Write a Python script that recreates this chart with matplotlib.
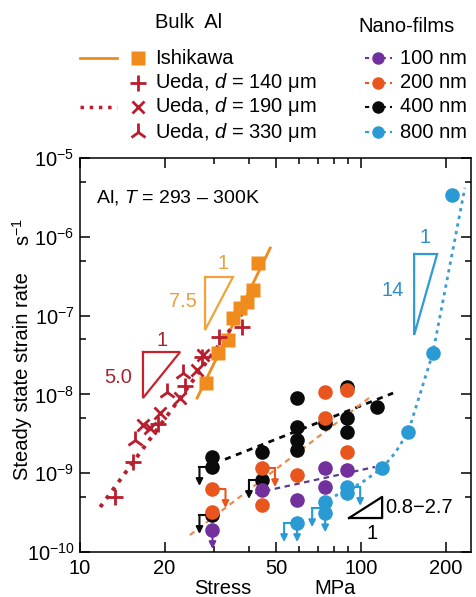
import numpy as np
import matplotlib
matplotlib.use('Agg')
import matplotlib.pyplot as plt
from matplotlib.lines import Line2D
from matplotlib.ticker import FixedLocator, FuncFormatter, NullFormatter

plt.rcParams['font.family'] = ['Liberation Sans', 'DejaVu Sans']
plt.rcParams['mathtext.fontset'] = 'custom'
plt.rcParams['mathtext.rm'] = 'Liberation Sans'
plt.rcParams['mathtext.it'] = 'Liberation Sans:italic'
plt.rcParams['mathtext.bf'] = 'Liberation Sans:bold'

# ---------------- data ----------------
ishikawa_stress = [28.1, 31.0, 33.6, 35.0, 37.1, 39.3, 41.3, 43.0]
ishikawa_rate = [1.40e-8, 3.35e-8, 4.9e-8, 9.3e-8, 1.25e-7, 1.49e-7, 2.11e-7, 4.65e-7]
ishikawa_fit_stress = [26.1, 47.5]
ishikawa_fit_rate = [9.0e-9, 7.2e-7]

ueda140_stress = [13.3, 15.4, 18.95, 23.6, 27.2, 31.2, 37.7]
ueda140_rate = [5.0e-10, 1.39e-9, 4.2e-9, 1.28e-8, 2.99e-8, 5.35e-8, 7.16e-8]
ueda190_stress = [16.8, 17.7, 19.3, 22.7, 26.1, 27.4]
ueda190_rate = [4.09e-9, 3.75e-9, 5.8e-9, 9.0e-9, 2.04e-8, 3.16e-8]
ueda330_stress = [15.7, 20.4, 23.3]
ueda330_rate = [2.64e-9, 1.07e-8, 1.87e-8]
ueda_fit_stress = [11.8, 40.9]
ueda_fit_rate = [3.72e-10, 1.58e-7]

nf100_stress = [29.6, 44.4, 59.2, 74.5, 74.5, 89.2]
nf100_rate = [1.9e-10, 6.1e-10, 4.57e-10, 1.16e-9, 6.7e-10, 1.10e-9]
nf200_stress = [29.6, 29.6, 44.4, 44.4, 59.2, 74.5, 74.5, 89.2, 89.2]
nf200_rate = [6.3e-10, 3.2e-10, 1.16e-9, 3.95e-10, 9.5e-10, 1.07e-8, 5.0e-9, 1.14e-8, 1.86e-9]
nf400_stress = [29.6, 29.6, 29.6, 44.4, 44.4, 59.2, 59.2, 59.2, 59.2, 74.5, 89.2, 89.2, 89.2, 114]
nf400_rate = [1.61e-9, 1.2e-9, 2.95e-10, 1.86e-9, 8.2e-10, 9.0e-9, 3.86e-9, 2.64e-9, 1.97e-9,
              4.33e-9, 1.24e-8, 5.0e-9, 3.33e-9, 6.9e-9]
nf800_stress = [59.2, 74.5, 74.5, 89.2, 89.2, 118.8, 147, 180, 211]
nf800_rate = [2.33e-10, 4.3e-10, 3.1e-10, 6.7e-10, 5.6e-10, 1.16e-9, 3.33e-9, 3.35e-8, 3.4e-6]

nf100_fit_stress = [42.0, 112]
nf100_fit_rate = [5.6e-10, 1.2e-9]
nf200_fit_stress = [24.6, 110]
nf200_fit_rate = [1.64e-10, 9.8e-9]
nf400_fit_stress = [32.8, 130]
nf400_fit_rate = [1.5e-9, 1.04e-8]
nf800_fit_stress = [72, 100, 118.8, 132, 147, 180, 234]
nf800_fit_rate = [4.2e-10, 7.5e-10, 1.16e-9, 1.8e-9, 3.33e-9, 3.35e-8, 4.2e-6]

# upper-limit points (side: -1 hook left, +1 hook right, 0 straight down)
limit_stress = [29.6, 29.6, 29.6, 29.6, 44.4, 44.4, 59.2, 59.2, 74.5, 74.5, 89.2]
limit_rate = [1.2e-9, 2.95e-10, 6.3e-10, 1.9e-10, 8.2e-10, 1.16e-9, 2.33e-10, 2.33e-10,
              3.6e-10, 3.1e-10, 6.7e-10]
limit_side = [-1, -1, 1, 0, -1, 1, -1, 0, -1, 0, 1]
limit_series = ['400', '400', '200', '100', '400', '200', '800', '800', '800', '800', '800']

x_ticks = [10, 20, 50, 100, 200]
x_minor = [30, 40, 60, 70, 80, 90]
y_ticks = [1e-10, 1e-9, 1e-8, 1e-7, 1e-6, 1e-5]
y_minor = [5e-10, 5e-9, 5e-8, 5e-7, 5e-6]

# ---------------- styles ----------------
C_ISH = '#F08C1E'
C_UEDA = '#B81E2E'
C_NF = {'100': '#71309C', '200': '#E8561E', '400': '#0A0A0A', '800': '#2A9AD4'}
FS = 14.5

W, H = 476, 597
fig = plt.figure(figsize=(W / 100, H / 100), dpi=100)
ax = fig.add_axes([80 / W, 1 - 552 / H, (471 - 80) / W, (552 - 158) / H])
ax.set_xscale('log')
ax.set_yscale('log')
ax.set_xlim(10, 246)
ax.set_ylim(1e-10, 1e-5)

# fit lines
ax.plot(ishikawa_fit_stress, ishikawa_fit_rate, '-', color=C_ISH, lw=2.0, zorder=3)
ax.plot(ueda_fit_stress, ueda_fit_rate, ':', color=C_UEDA, lw=2.8, zorder=3)
ax.plot(nf400_fit_stress, nf400_fit_rate, color=C_NF['400'], lw=2.0, dashes=(2.2, 2.0), zorder=2)
ax.plot(nf200_fit_stress, nf200_fit_rate, color='#EE8A4E', lw=1.6, dashes=(2.5, 2.0), zorder=2)
ax.plot(nf100_fit_stress, nf100_fit_rate, color='#5E3A8A', lw=1.6, dashes=(2.5, 2.0), zorder=2)
ax.plot(nf800_fit_stress, nf800_fit_rate, color='#3A9CCF', lw=2.0, dashes=(1.2, 1.6), zorder=2)

# bulk markers
ax.plot(ishikawa_stress, ishikawa_rate, 's', color=C_ISH, ms=10.5, mec='none', zorder=4)
ax.plot(ueda140_stress, ueda140_rate, '+', color=C_UEDA, ms=12, mew=2.0, zorder=5)
ax.plot(ueda190_stress, ueda190_rate, 'x', color=C_UEDA, ms=9, mew=2.0, zorder=5)
ax.plot(ueda330_stress, ueda330_rate, '2', color=C_UEDA, ms=13, mew=2.0, zorder=5)

# upper-limit arrows
fh = 10 ** (13 / 281)
fv = 10 ** (-19 / 78.8)
for xs, ys, sd, sr in zip(limit_stress, limit_rate, limit_side, limit_series):
    c = C_NF[sr]
    x2 = xs * fh ** sd
    if sd != 0:
        ax.plot([xs, x2], [ys, ys], color=c, lw=1.5, zorder=4)
    ax.annotate('', xy=(x2, ys * fv), xytext=(x2, ys),
                arrowprops=dict(arrowstyle='-|>', color=c, lw=1.5, mutation_scale=10,
                                shrinkA=0, shrinkB=0), zorder=4)

# nano-film markers
for key, xs, ys in [('400', nf400_stress, nf400_rate), ('200', nf200_stress, nf200_rate),
                    ('100', nf100_stress, nf100_rate), ('800', nf800_stress, nf800_rate)]:
    ax.plot(xs, ys, 'o', color=C_NF[key], ms=10.5, mec='none', zorder=6)

# slope triangles
def tri(xa, xb, ytop, ybot, color):
    ax.plot([xa, xb, xa, xa], [ytop, ytop, ybot, ytop], color=color, lw=1.6, zorder=3,
            solid_joinstyle='miter')

tri(27.85, 35.0, 3.09e-7, 6.56e-8, '#F2A33A')
ax.text(32.3, 4.65e-7, '1', color='#E8A040', fontsize=FS, ha='center', va='center')
ax.text(23.3, 1.49e-7, '7.5', color='#E8A040', fontsize=FS, ha='center', va='center')
tri(16.75, 22.7, 3.45e-8, 9.0e-9, '#C8232C')
ax.text(19.6, 4.9e-8, '1', color='#A3262E', fontsize=FS, ha='center', va='center')
ax.text(13.65, 1.66e-8, '5.0', color='#A3262E', fontsize=FS, ha='center', va='center')
tri(154.4, 186.4, 6.05e-7, 5.67e-8, '#2E9BD6')
ax.text(169, 9.7e-7, '1', color='#2E8FC8', fontsize=FS, ha='center', va='center')
ax.text(130, 2.11e-7, '14', color='#2E8FC8', fontsize=FS, ha='center', va='center')
ax.plot([90.6, 118.8, 118.8, 90.6], [2.7e-10, 2.7e-10, 5.0e-10, 2.7e-10], color='black',
        lw=1.6, zorder=3)
ax.text(122, 3.7e-10, '0.8\u22122.7', color='black', fontsize=FS, ha='left', va='center')
ax.text(109, 1.7e-10, '1', color='black', fontsize=FS, ha='center', va='center')

fig.text(96 / W, 1 - 197 / H, 'Al, $T$ = 293 \u2013 300K', fontsize=FS - 0.5, ha='left', va='center')

# ticks
ax.xaxis.set_major_locator(FixedLocator(x_ticks))
ax.xaxis.set_minor_locator(FixedLocator(x_minor))
ax.xaxis.set_major_formatter(FuncFormatter(lambda v, p: f'{v:g}'))
ax.xaxis.set_minor_formatter(NullFormatter())
ax.yaxis.set_major_locator(FixedLocator(y_ticks))
ax.yaxis.set_minor_locator(FixedLocator(y_minor))
ax.yaxis.set_major_formatter(FuncFormatter(lambda v, p: r'$10^{%d}$' % round(np.log10(v))))
ax.yaxis.set_minor_formatter(NullFormatter())
ax.tick_params(which='both', direction='in', top=True, right=True, width=1.1, labelsize=FS)
ax.tick_params(which='major', length=7)
ax.tick_params(which='minor', length=4)
ax.tick_params(axis='y', pad=4)
ax.tick_params(axis='x', pad=5)
for s in ax.spines.values():
    s.set_linewidth(1.1)

# axis labels
fig.text(223 / W, 1 - 588 / H, 'Stress', fontsize=FS, ha='center', va='center')
fig.text(335 / W, 1 - 588 / H, 'MPa', fontsize=FS, ha='center', va='center')
fig.text(23 / W, 1 - 376 / H, 'Steady state strain rate', fontsize=FS, rotation=90,
         ha='center', va='center')
fig.text(23 / W, 1 - 232 / H, 's$^{-1}$', fontsize=FS, rotation=90, ha='center', va='center')

# legends (manual)
def P(x, y):
    return x / W, 1 - y / H

def fline(x0, x1, y, **kw):
    (a, b), (c, d) = P(x0, y), P(x1, y)
    fig.add_artist(Line2D([a, c], [b, d], transform=fig.transFigure, **kw))

def fmark(x, y, **kw):
    a, b = P(x, y)
    fig.add_artist(Line2D([a], [b], transform=fig.transFigure, ls='none', **kw))

fig.text(*P(155, 23), 'Bulk  Al', fontsize=FS, ha='left', va='center')
rows = [58, 83, 107, 132]
fline(80, 117, rows[0], color=C_ISH, lw=2.0)
fmark(138, rows[0], marker='s', color=C_ISH, ms=10, mec='none')
fmark(138, rows[1], marker='+', color=C_UEDA, ms=12, mew=2.0)
fline(80, 117, rows[2], color=C_UEDA, lw=2.5, ls=':')
fmark(138, rows[2], marker='x', color=C_UEDA, ms=9, mew=2.0)
fmark(138, rows[3], marker='2', color=C_UEDA, ms=13, mew=2.0)
labels = ['Ishikawa', 'Ueda, $d$ = 140 \u03bcm', 'Ueda, $d$ = 190 \u03bcm', 'Ueda, $d$ = 330 \u03bcm']
for r, t in zip(rows, labels):
    fig.text(*P(155, r), t, fontsize=FS, ha='left', va='center')

fig.text(*P(358, 27), 'Nano-films', fontsize=FS, ha='left', va='center')
for r, key in zip(rows, ['100', '200', '400', '800']):
    fline(365, 392, r, color=C_NF[key], lw=1.5, dashes=(2, 2))
    fmark(378, r, marker='o', color=C_NF[key], ms=9, mec='none')
    fig.text(*P(400, r), f'{key} nm', fontsize=FS, ha='left', va='center')

fig.savefig('out.png', dpi=100)
